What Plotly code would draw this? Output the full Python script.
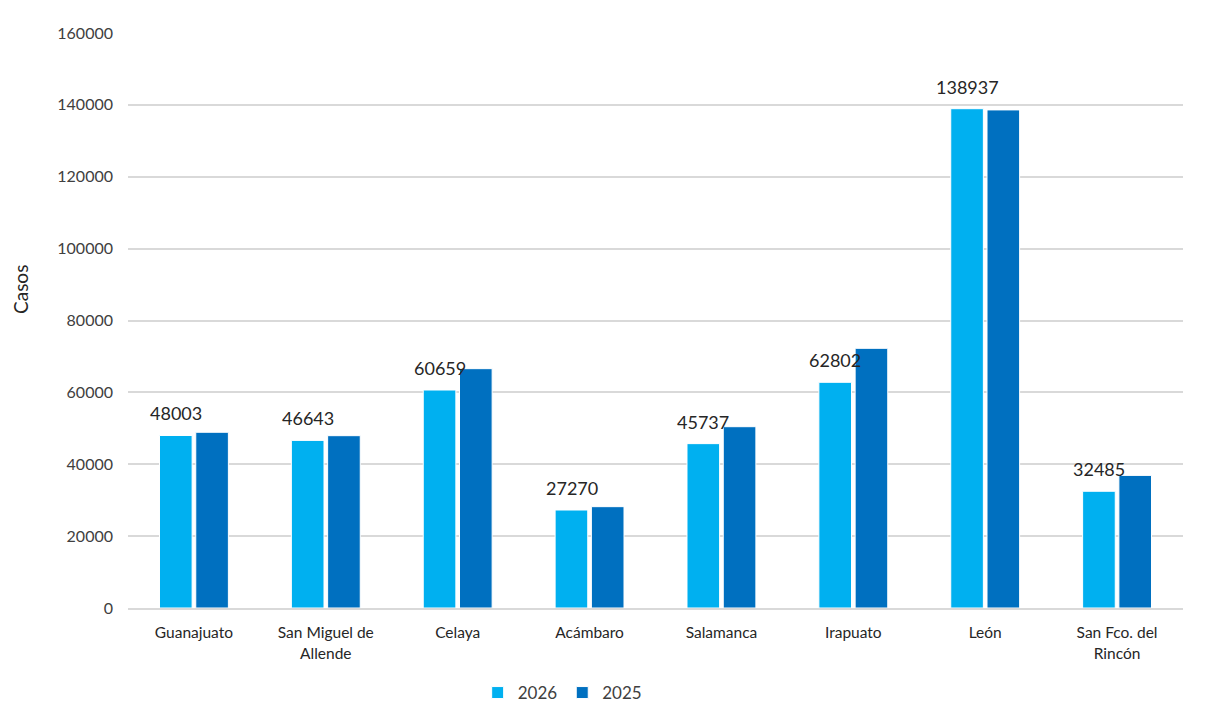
import plotly.graph_objects as go

categories = ["Guanajuato", "San Miguel de<br>Allende", "Celaya", "Acámbaro",
              "Salamanca", "Irapuato", "León", "San Fco. del<br>Rincón"]
values_2026 = [48003, 46643, 60659, 27270, 45737, 62802, 138937, 32485]
values_2025 = [48900, 47950, 66600, 28200, 50450, 72260, 138600, 36900]
label_2026 = ["48003", "46643", "60659", "27270", "45737", "62802", "138937", "32485"]
y_ticks = [0, 20000, 40000, 60000, 80000, 100000, 120000, 140000, 160000]

C26 = "#00B0F0"
C25 = "#0070C0"
FONT = "Lato, 'Open Sans', sans-serif"

# page body has an 8px margin on every side; fit the figure inside the viewport
W, H = 1215 - 16, 717 - 16
L, T, PW, PH = 120, 25, 1055, 575
R = W - L - PW
B = H - T - PH

fig = go.Figure()
fig.add_trace(go.Bar(name="2026", x=categories, y=values_2026,
                     marker=dict(color=C26, line=dict(color="#ffffff", width=1))))
fig.add_trace(go.Bar(name="2025", x=categories, y=values_2025,
                     marker=dict(color=C25, line=dict(color="#ffffff", width=1))))

annotations = []
for c, v, t in zip(categories, values_2026, label_2026):
    annotations.append(dict(x=c, y=v, xref="x", yref="y", text=t, showarrow=False,
                            xshift=-18, yshift=9, yanchor="bottom",
                            font=dict(family=FONT, size=18, color="#262626")))
annotations.append(dict(text="Casos", xref="paper", yref="paper",
                        x=-108 / PW, y=(608 - 290) / PH, textangle=-90,
                        showarrow=False, xanchor="center", yanchor="middle",
                        font=dict(family=FONT, size=19, color="#262626")))

fig.update_layout(
    width=W, height=H, autosize=False,
    paper_bgcolor="#ffffff", plot_bgcolor="#ffffff",
    margin=dict(l=L, r=R, t=T, b=B),
    barmode="group", bargap=0.45, bargroupgap=0.1,
    font=dict(family=FONT, size=16, color="#404040"),
    showlegend=True,
    legend=dict(orientation="h", x=0.412, xanchor="center",
                yref="container", y=(H - (693 - 8)) / H, yanchor="middle",
                font=dict(family=FONT, size=17, color="#404040"), itemwidth=30,
                traceorder="normal"),
    annotations=annotations,
)
fig.update_yaxes(range=[0, 160000], tickvals=y_ticks, ticktext=[str(v) for v in y_ticks],
                 showgrid=True, gridcolor="#d9d9d9", gridwidth=1.5, zeroline=False,
                 showline=False, ticks="", ticklabelstandoff=14, automargin=False,
                 tickfont=dict(family=FONT, size=16, color="#404040"))
fig.update_xaxes(showline=True, linecolor="#d9d9d9", linewidth=1.5, ticks="",
                 ticklabelstandoff=10, automargin=False,
                 tickfont=dict(family=FONT, size=15.5, color="#262626"))

fig.write_html("out.html")
